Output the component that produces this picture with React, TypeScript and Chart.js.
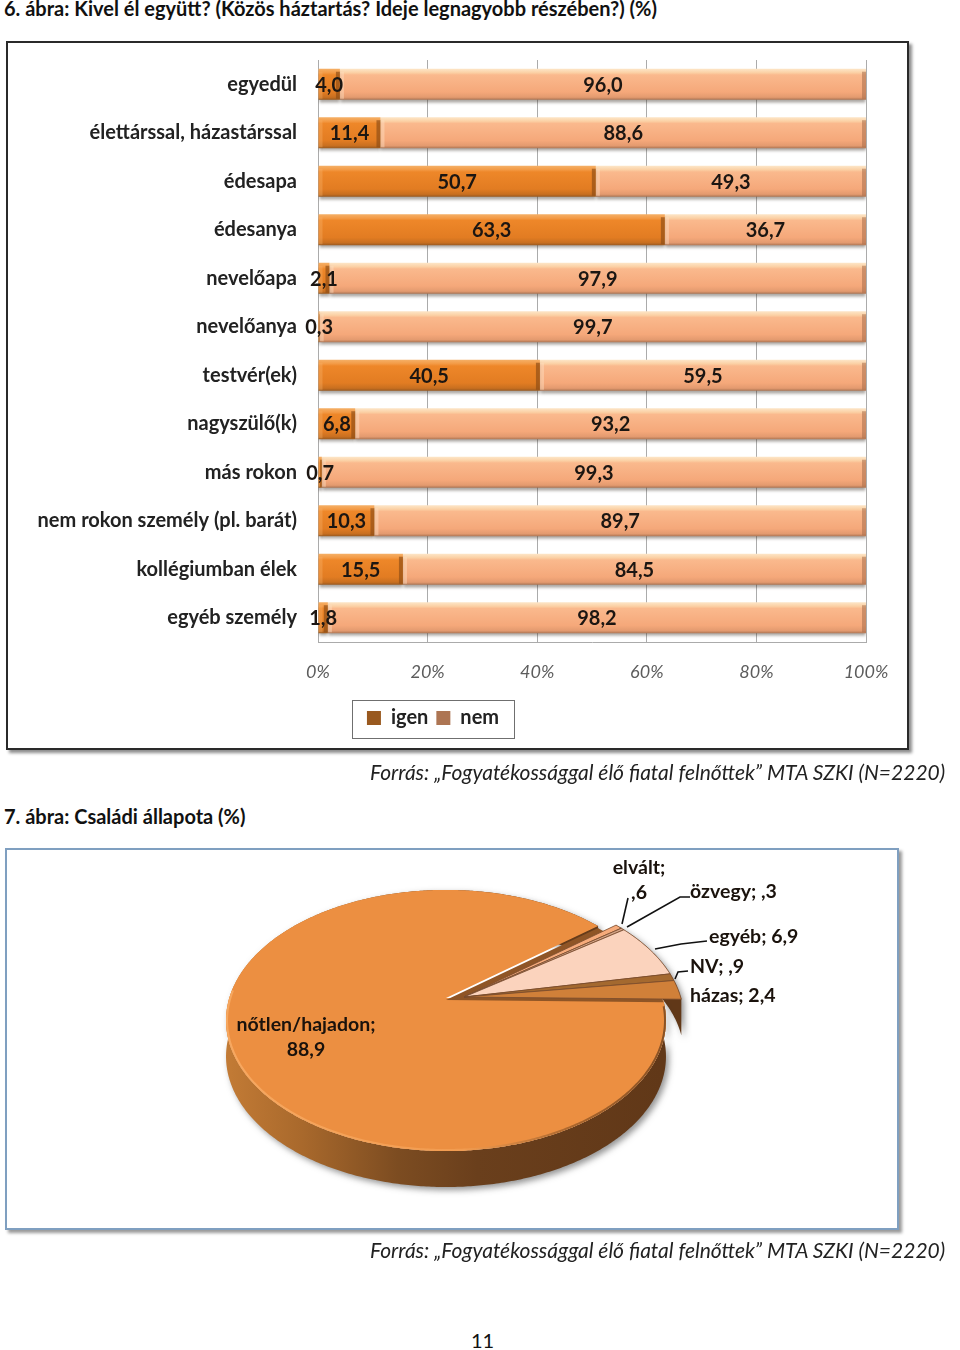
import React, { useEffect, useRef } from "react";
import { Chart, registerables } from "chart.js";

Chart.register(...registerables);

const barCategories = [
  "egyedül",
  "élettárssal, házastárssal",
  "édesapa",
  "édesanya",
  "nevelőapa",
  "nevelőanya",
  "testvér(ek)",
  "nagyszülő(k)",
  "más rokon",
  "nem rokon személy (pl. barát)",
  "kollégiumban élek",
  "egyéb személy",
];
const igenValues = [4.0, 11.4, 50.7, 63.3, 2.1, 0.3, 40.5, 6.8, 0.7, 10.3, 15.5, 1.8];
const nemValues = [96.0, 88.6, 49.3, 36.7, 97.9, 99.7, 59.5, 93.2, 99.3, 89.7, 84.5, 98.2];
const seriesNames = ["igen", "nem"];

const pieCategories = ["nőtlen/hajadon", "elvált", "özvegy", "egyéb", "NV", "házas"];
const pieValues = [88.9, 0.6, 0.3, 6.9, 0.9, 2.4];
const pieColors = ["#ec8f41", "#f6ab7b", "#d3a386", "#fbd3bd", "#a4692f", "#d08039"];

const FONT = "Lato, 'Open Sans', sans-serif";
const fmt = (v: number) => {
  const s = v.toFixed(1).replace(".", ",");
  return s.startsWith("0,") ? s.slice(1) : s;
};
const fmtBar = (v: number) => v.toFixed(1).replace(".", ",");

function barGradient(chart: any, index: number, stops: [number, string][], fallback: string) {
  const y = chart.scales.y;
  const half = 15.5;
  if (!y || index === undefined) return fallback;
  const c = y.getPixelForValue(index);
  if (!Number.isFinite(c)) return fallback;
  const g = chart.ctx.createLinearGradient(0, c - half, 0, c + half);
  stops.forEach(([o, col]) => g.addColorStop(o, col));
  return g;
}
const igenStops: [number, string][] = [
  [0, "#f5b067"],
  [0.13, "#f39a45"],
  [0.2, "#ee8729"],
  [0.75, "#e27c22"],
  [0.92, "#c86f20"],
  [1, "#99591f"],
];
const nemStops: [number, string][] = [
  [0, "#fde6c8"],
  [0.13, "#fbd0a4"],
  [0.2, "#fab98d"],
  [0.75, "#f5a87a"],
  [0.92, "#e39a6f"],
  [1, "#ad7553"],
];

const barShadowPlugin = {
  id: "barShadow",
  beforeDatasetsDraw(chart: any) {
    const c = chart.ctx;
    c.save();
    c.shadowColor = "rgba(60,50,40,0.45)";
    c.shadowBlur = 3;
    c.shadowOffsetY = 3;
  },
  afterDatasetsDraw(chart: any) {
    const c = chart.ctx;
    c.restore();
    // bevel on the bar ends and value labels
    chart.data.datasets.forEach((ds: any, di: number) => {
      chart.getDatasetMeta(di).data.forEach((el: any) => {
        const { x, y, base, height } = el.getProps(["x", "y", "base", "height"]);
        const w = x - base;
        const bev = Math.min(4, w / 2);
        c.fillStyle = di === 0 ? "rgba(140,75,20,0.65)" : "rgba(170,110,75,0.55)";
        c.fillRect(x - bev, y - height / 2 + 3, bev, height - 4);
        c.fillStyle = di === 0 ? "rgba(250,180,110,0.35)" : "rgba(255,225,195,0.45)";
        c.fillRect(base, y - height / 2 + 3, bev, height - 4);
      });
    });
    c.font = `700 20px ${FONT}`;
    c.fillStyle = "#1c1612";
    c.textAlign = "center";
    c.textBaseline = "middle";
    chart.data.datasets.forEach((ds: any, di: number) => {
      chart.getDatasetMeta(di).data.forEach((el: any, i: number) => {
        const p = el.getCenterPoint();
        c.fillText(fmtBar(ds.data[i]), p.x, p.y + 1);
      });
    });
  },
  afterDraw(chart: any) {
    const l = chart.legend;
    if (!l || !l.legendHitBoxes) return;
    const c = chart.ctx;
    const boxes = l.legendHitBoxes;
    const left = Math.min(...boxes.map((b: any) => b.left));
    const right = Math.max(...boxes.map((b: any) => b.left + b.width));
    c.save();
    c.strokeStyle = "#6f6f6f";
    c.lineWidth = 1;
    c.strokeRect(Math.round(left - 15) + 0.5, Math.round(l.top) + 0.5, Math.round(right - left + 30), Math.round(l.bottom - l.top));
    c.restore();
  },
};

// Perspective of the tilted disc: the library gives the angles, this maps them on the page.
const CX = 446;
const CY = 158;
const RX = 216.7;
const RY = 126.7;
const K = 0.172;
const DEPTH = 36;
const EX = 18;
const EY = -1;

function project(a: number, ox: number, oy: number) {
  const u = Math.cos(a);
  const v = Math.sin(a);
  const w = 1 - K * v;
  return [CX + ox + (RX * u) / w, CY + oy + (RY * v) / w];
}
function rimPoints(a0: number, a1: number, ox: number, oy: number) {
  const n = Math.max(2, Math.ceil(Math.abs(a1 - a0) / 0.01));
  const pts: number[][] = [];
  for (let i = 0; i <= n; i++) pts.push(project(a0 + ((a1 - a0) * i) / n, ox, oy));
  return pts;
}
function wedge(c: any, a0: number, a1: number, ox: number, oy: number) {
  c.beginPath();
  c.moveTo(CX + ox, CY + oy);
  rimPoints(a0, a1, ox, oy).forEach((p) => c.lineTo(p[0], p[1]));
  c.closePath();
}
function wall(c: any, a0: number, a1: number, ox: number, oy: number) {
  const top = rimPoints(a0, a1, ox, oy);
  c.beginPath();
  top.forEach((p, i) => (i ? c.lineTo(p[0], p[1]) : c.moveTo(p[0], p[1])));
  [...top].reverse().forEach((p) => c.lineTo(p[0], p[1] + DEPTH));
  c.closePath();
}

const pieLabelSpots: { i: number; x: number; y: number; align: CanvasTextAlign; lines: (n: string, v: string) => string[] }[] = [
  { i: 0, x: 306, y: 185, align: "center", lines: (n, v) => [`${n};`, v] },
  { i: 1, x: 639, y: 28, align: "center", lines: (n, v) => [`${n};`, v] },
  { i: 2, x: 690, y: 52, align: "left", lines: (n, v) => [`${n}; ${v}`] },
  { i: 3, x: 709, y: 97, align: "left", lines: (n, v) => [`${n}; ${v}`] },
  { i: 4, x: 690, y: 127, align: "left", lines: (n, v) => [`${n}; ${v}`] },
  { i: 5, x: 690, y: 156, align: "left", lines: (n, v) => [`${n}; ${v}`] },
];
const leaderLines = [
  [[622, 84], [628, 58]],
  [[627, 87], [680, 57], [690, 57]],
  [[655, 109], [681, 104], [707, 101]],
  [[675, 139], [678, 132], [688, 131]],
];

const piePlugin = {
  id: "tiltedPie",
  beforeDatasetDraw(chart: any) {
    const c = chart.ctx;
    const arcs = chart.getDatasetMeta(0).data;
    const colors = chart.data.datasets[0].backgroundColor;
    const main = arcs[0];
    const m0 = main.startAngle;
    const m1 = main.endAngle;
    const s0 = arcs[1].startAngle;
    const s1 = arcs[arcs.length - 1].endAngle;

    // side walls
    const g = c.createLinearGradient(222, 0, 662, 0);
    g.addColorStop(0, "#c47c36");
    g.addColorStop(0.18, "#a9692c");
    g.addColorStop(0.4, "#7c4c21");
    g.addColorStop(0.58, "#6a3f1c");
    g.addColorStop(1, "#613818");
    c.save();
    c.shadowColor = "rgba(40,40,40,0.5)";
    c.shadowBlur = 6;
    c.shadowOffsetX = 3;
    c.shadowOffsetY = 3;
    c.fillStyle = "#613818";
    wall(c, s0, s1, EX, EY);
    c.fill();
    c.fillStyle = g;
    wall(c, m0, m1, 0, 0);
    c.fill();
    c.restore();

    // top of the large slice
    c.fillStyle = colors[0];
    wedge(c, m0, m1, 0, 0);
    c.fill();
    c.save();
    wedge(c, m0, m1, 0, 0);
    c.clip();
    const rim = c.createLinearGradient(222, 0, 662, 0);
    rim.addColorStop(0, "#f7a860");
    rim.addColorStop(0.55, "#f29c50");
    rim.addColorStop(0.8, "#a9652c");
    rim.addColorStop(1, "#8a5224");
    c.strokeStyle = rim;
    c.lineWidth = 4;
    c.beginPath();
    rimPoints(Math.PI * 0.02, Math.PI * 1.02, 0, 0).forEach((p, i) => (i ? c.lineTo(p[0], p[1]) : c.moveTo(p[0], p[1])));
    c.stroke();
    c.restore();

    // cut face seen between the large slice and the pulled-out ones
    c.fillStyle = "#8f5526";
    wedge(c, s0, s1, 0, 2);
    c.fill();

    // pulled-out slices
    for (let i = 1; i < arcs.length; i++) {
      c.fillStyle = colors[i];
      wedge(c, arcs[i].startAngle, arcs[i].endAngle, EX, EY);
      c.fill();
      c.strokeStyle = "rgba(120,75,45,0.8)";
      c.lineWidth = 1;
      c.stroke();
    }

    // leader lines and labels
    c.strokeStyle = "#111";
    c.lineWidth = 1.6;
    leaderLines.forEach((line) => {
      c.beginPath();
      line.forEach((p, i) => (i ? c.lineTo(p[0], p[1]) : c.moveTo(p[0], p[1])));
      c.stroke();
    });
    c.font = `700 19.5px ${FONT}`;
    c.fillStyle = "#1a120c";
    c.textBaseline = "middle";
    pieLabelSpots.forEach((s) => {
      c.textAlign = s.align;
      s.lines(pieCategories[s.i], fmt(pieValues[s.i])).forEach((t, k) => {
        c.fillText(t, s.x, s.y + k * 25);
      });
    });
    return false;
  },
};

function BarChart() {
  const ref = useRef<HTMLCanvasElement>(null);
  useEffect(() => {
    const chart = new Chart(ref.current as any, {
      type: "bar",
      data: {
        labels: barCategories,
        datasets: [
          {
            label: seriesNames[0],
            data: igenValues,
            backgroundColor: (ctx: any) => barGradient(ctx.chart, ctx.dataIndex, igenStops, "#d97a26"),
          },
          {
            label: seriesNames[1],
            data: nemValues,
            backgroundColor: (ctx: any) => barGradient(ctx.chart, ctx.dataIndex, nemStops, "#f1ab80"),
          },
        ],
      },
      options: {
        indexAxis: "y",
        responsive: false,
        animation: false,
        devicePixelRatio: 1,
        barPercentage: 1,
        categoryPercentage: 0.64,
        layout: { autoPadding: false, padding: { top: 60, right: 47, bottom: 22, left: 0 } },
        plugins: {
          tooltip: { enabled: false },
          legend: {
            position: "bottom",
            labels: {
              boxWidth: 14,
              boxHeight: 14,
              padding: 8,
              color: "#222",
              font: { family: FONT, size: 20, weight: "700" },
            },
          },
        },
        scales: {
          x: {
            stacked: true,
            min: 0,
            max: 100,
            afterFit: (s: any) => {
              s.height = 58;
            },
            grid: { color: "#ababab", drawTicks: false, lineWidth: 1 },
            border: { color: "#ababab" },
            ticks: {
              stepSize: 20,
              padding: 19,
              maxRotation: 0,
              callback: (v: any) => `${v}%`,
              color: "#5c5c5c",
              font: { family: FONT, size: 18, style: "italic" },
            },
          },
          y: {
            stacked: true,
            afterFit: (s: any) => {
              s.width = 318;
            },
            grid: { display: false, drawTicks: false },
            border: { color: "#ababab" },
            ticks: {
              padding: 21,
              autoSkip: false,
              color: "#222",
              font: { family: FONT, size: 20, weight: "700" },
            },
          },
        },
      } as any,
      plugins: [barShadowPlugin],
    });
    return () => chart.destroy();
  }, []);
  return <canvas ref={ref} width={913} height={760} style={{ position: "absolute", left: 0, top: 0, display: "block" }} />;
}

function PieChart() {
  const ref = useRef<HTMLCanvasElement>(null);
  useEffect(() => {
    const chart = new Chart(ref.current as any, {
      type: "pie",
      data: {
        labels: pieCategories,
        datasets: [{ data: pieValues, backgroundColor: pieColors, borderWidth: 0 }],
      },
      options: {
        responsive: false,
        animation: false,
        devicePixelRatio: 1,
        rotation: 91,
        plugins: { legend: { display: false }, tooltip: { enabled: false } },
      } as any,
      plugins: [piePlugin],
    });
    return () => chart.destroy();
  }, []);
  return <canvas ref={ref} width={960} height={400} style={{ position: "absolute", left: 0, top: 840, display: "block" }} />;
}

const textBase: React.CSSProperties = {
  position: "absolute",
  whiteSpace: "nowrap",
  fontFamily: FONT,
  color: "#111",
  lineHeight: 1,
};

const SOURCE = "Forrás: „Fogyatékossággal élő fiatal felnőttek” MTA SZKI (N=2220)";

export default function App() {
  return (
    <div style={{ position: "absolute", left: 0, top: 0, width: 960, height: 1350, overflow: "hidden", background: "#fff" }}>
      <div style={{ ...textBase, left: 4, top: -2, fontSize: 20, fontWeight: 700 }}>
        6. ábra: Kivel él együtt? (Közös háztartás? Ideje legnagyobb részében?) (%)
      </div>
      <div
        style={{
          position: "absolute",
          left: 6,
          top: 41,
          width: 899,
          height: 705,
          border: "2px solid #2a2a2a",
          boxShadow: "3px 3px 3px rgba(0,0,0,0.45)",
          background: "#fff",
        }}
      />
      <BarChart />
      <div style={{ ...textBase, left: 370, top: 761, fontSize: 21, fontStyle: "italic", color: "#222" }}>{SOURCE}</div>
      <div style={{ ...textBase, left: 4, top: 806, fontSize: 20, fontWeight: 700 }}>7. ábra: Családi állapota (%)</div>
      <div
        style={{
          position: "absolute",
          left: 5,
          top: 848,
          width: 890,
          height: 378,
          border: "2px solid #7f9fc0",
          boxShadow: "3px 3px 3px rgba(0,0,0,0.4)",
          background: "#fff",
        }}
      />
      <PieChart />
      <div style={{ ...textBase, left: 370, top: 1239, fontSize: 21, fontStyle: "italic", color: "#222" }}>{SOURCE}</div>
      <div style={{ ...textBase, left: 471, top: 1330, fontSize: 20 }}>11</div>
    </div>
  );
}
